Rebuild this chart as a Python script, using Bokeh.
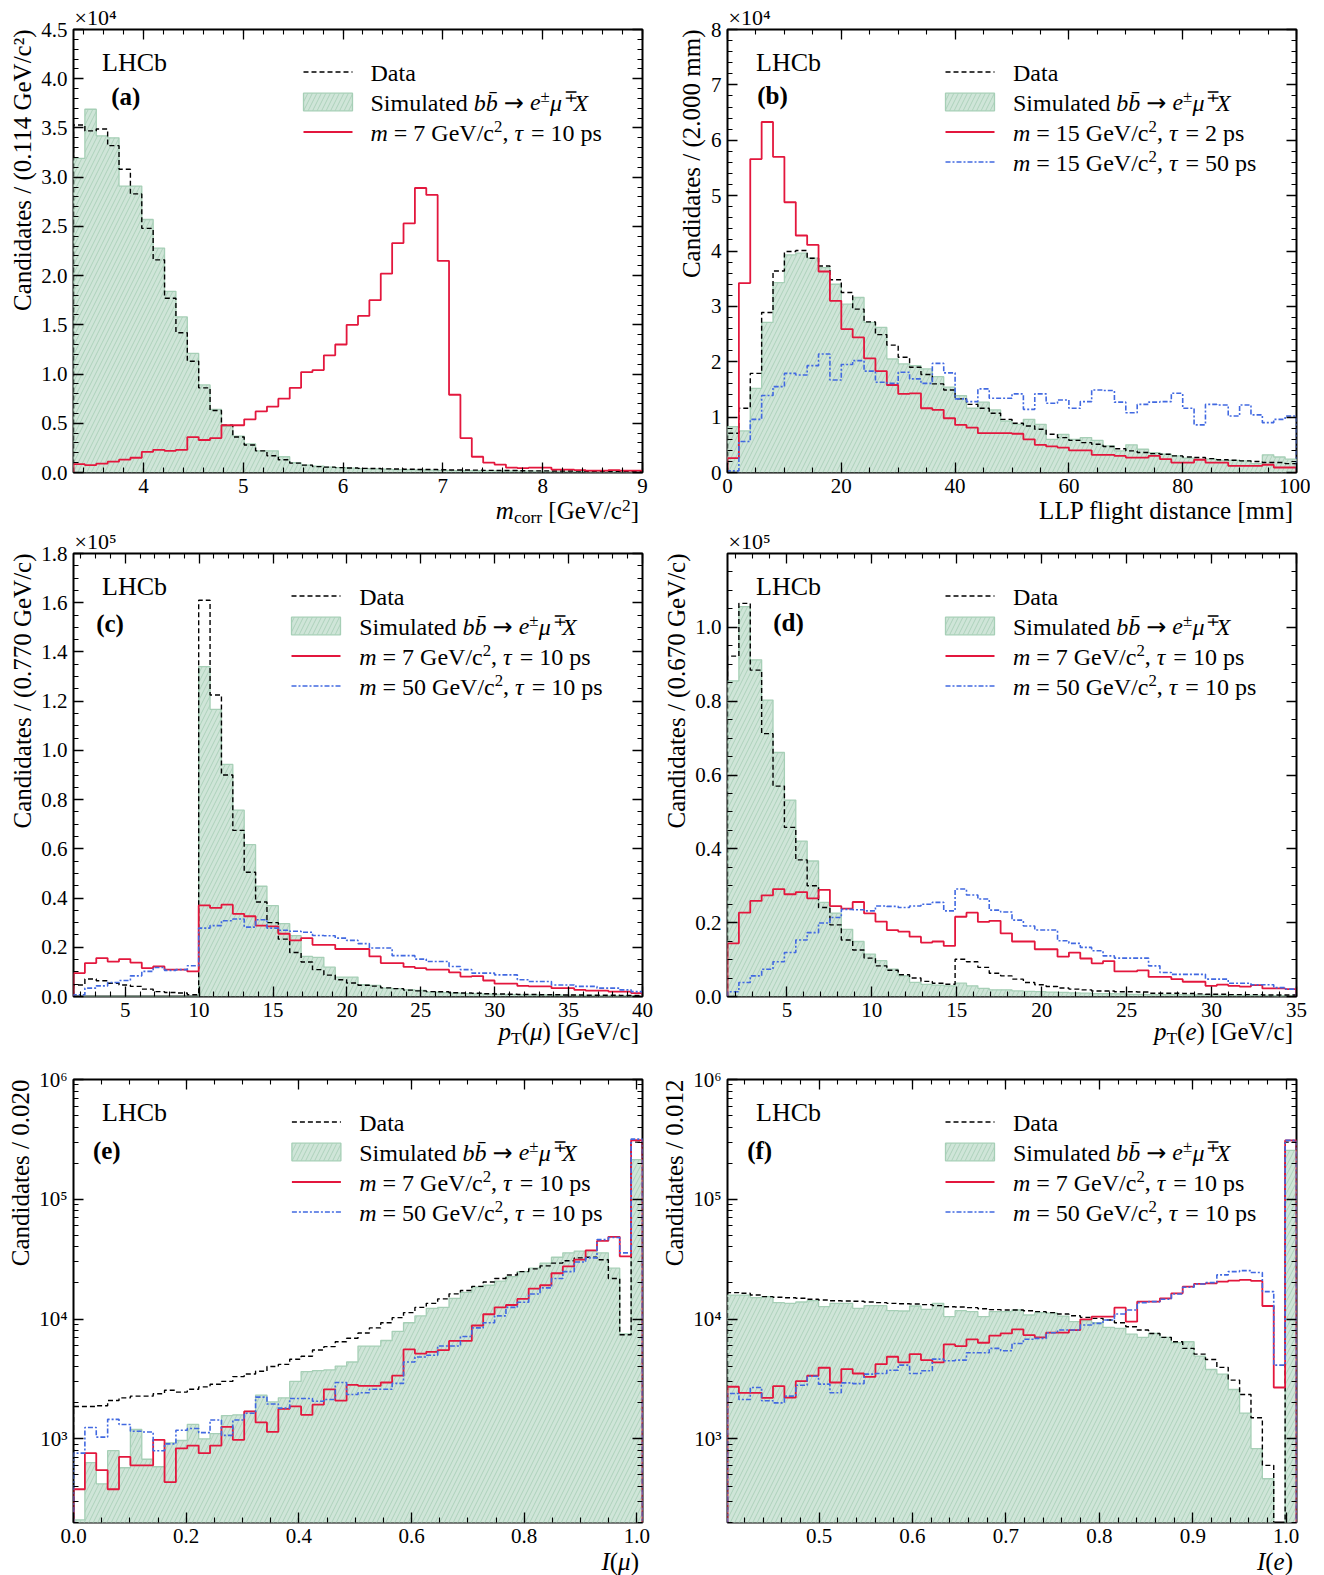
import math
from bokeh.plotting import figure
from bokeh.layouts import column, row
from bokeh.models import (Label, LinearAxis, LogAxis, Range1d, SingleIntervalTicker, Title,
                          FixedTicker, PrintfTickFormatter, CustomJSTickFormatter, Div)
from bokeh.embed import file_html
from bokeh.resources import INLINE

# ---------------- data ----------------
# (a) corrected mass, 50 bins of 0.114 GeV/c2 from 3.3, units of 1e4
a_data = [3.53, 3.47, 3.49, 3.32, 3.08, 2.83, 2.48, 2.16, 1.77, 1.42,
          1.13, 0.86, 0.63, 0.48, 0.36, 0.28, 0.22, 0.17, 0.13, 0.095,
          0.075, 0.06, 0.055, 0.05, 0.045, 0.042, 0.04, 0.037, 0.035, 0.033,
          0.03, 0.03, 0.028, 0.026, 0.025, 0.024, 0.022, 0.02, 0.02, 0.018,
          0.017, 0.016, 0.015, 0.015, 0.014, 0.013, 0.013, 0.012, 0.012, 0.011]
a_sim = [3.19, 3.69, 3.42, 3.40, 2.91, 2.91, 2.57, 2.28, 1.84, 1.58,
         1.21, 0.89, 0.64, 0.47, 0.37, 0.29, 0.22, 0.22, 0.16, 0.10,
         0.075, 0.065, 0.055, 0.05, 0.045, 0.04, 0.036, 0.034, 0.03, 0.028,
         0.026, 0.024, 0.022, 0.02, 0.019, 0.018, 0.017, 0.016, 0.015, 0.014,
         0.013, 0.012, 0.012, 0.011, 0.011, 0.010, 0.010, 0.009, 0.009, 0.008]
a_m7 = [0.085, 0.075, 0.09, 0.11, 0.13, 0.15, 0.21, 0.23, 0.22, 0.23,
        0.36, 0.33, 0.35, 0.48, 0.48, 0.54, 0.62, 0.67, 0.75, 0.86,
        1.02, 1.04, 1.19, 1.30, 1.50, 1.59, 1.75, 2.02, 2.33, 2.53,
        2.89, 2.82, 2.15, 0.79, 0.35, 0.16, 0.10, 0.08, 0.05, 0.045,
        0.05, 0.05, 0.03, 0.03, 0.025, 0.02, 0.02, 0.025, 0.02, 0.02]

# (b) flight distance, 50 bins of 2 mm, units of 1e4
b_data = [0.71, 1.16, 1.79, 2.89, 3.64, 3.99, 4.01, 3.87, 3.73, 3.48,
          3.25, 2.95, 2.72, 2.49, 2.30, 2.08, 1.90, 1.77, 1.60, 1.49,
          1.33, 1.23, 1.16, 1.07, 0.96, 0.89, 0.84, 0.78, 0.69, 0.63,
          0.58, 0.54, 0.51, 0.47, 0.43, 0.39, 0.36, 0.34, 0.33, 0.30,
          0.28, 0.27, 0.25, 0.23, 0.22, 0.21, 0.20, 0.18, 0.18, 0.16]
b_sim = [0.83, 0.75, 1.52, 2.71, 3.43, 3.93, 3.96, 3.87, 3.70, 3.40,
         3.04, 3.16, 2.71, 2.62, 2.05, 1.96, 1.93, 1.87, 1.73, 1.54,
         1.39, 1.16, 1.27, 1.13, 0.93, 0.87, 0.96, 0.87, 0.60, 0.69,
         0.60, 0.63, 0.58, 0.48, 0.39, 0.50, 0.42, 0.36, 0.33, 0.30,
         0.26, 0.24, 0.24, 0.22, 0.22, 0.21, 0.16, 0.32, 0.28, 0.24]
b_m15_t2 = [0.26, 3.42, 5.66, 6.33, 5.70, 4.88, 4.28, 4.11, 3.63, 3.10,
            2.59, 2.44, 2.06, 1.83, 1.58, 1.42, 1.43, 1.16, 1.13, 0.98,
            0.86, 0.81, 0.71, 0.71, 0.71, 0.70, 0.60, 0.50, 0.47, 0.45,
            0.40, 0.40, 0.32, 0.32, 0.30, 0.27, 0.27, 0.30, 0.24, 0.18,
            0.18, 0.23, 0.18, 0.18, 0.12, 0.12, 0.12, 0.14, 0.09, 0.09]
b_m15_t50 = [0.03, 0.56, 0.96, 1.39, 1.55, 1.79, 1.76, 1.93, 2.14, 1.67,
             1.95, 2.02, 1.83, 1.63, 1.61, 1.81, 1.69, 1.61, 1.97, 1.80,
             1.33, 1.28, 1.51, 1.34, 1.34, 1.42, 1.14, 1.42, 1.25, 1.31,
             1.16, 1.28, 1.49, 1.48, 1.27, 1.08, 1.23, 1.27, 1.28, 1.43,
             1.16, 0.86, 1.23, 1.22, 1.02, 1.22, 1.04, 0.90, 0.96, 1.02]

# (c) pT(mu), 50 bins of 0.770 GeV/c from 1.5, units of 1e5
c_data = [0.047, 0.071, 0.064, 0.054, 0.047, 0.041, 0.030, 0.020, 0.016, 0.014,
          0.007, 1.61, 1.225, 0.90, 0.675, 0.505, 0.384, 0.30, 0.233, 0.179,
          0.140, 0.109, 0.087, 0.068, 0.055, 0.046, 0.042, 0.035, 0.032, 0.026,
          0.023, 0.020, 0.019, 0.015, 0.014, 0.013, 0.011, 0.010, 0.009, 0.008,
          0.008, 0.007, 0.007, 0.006, 0.006, 0.005, 0.005, 0.005, 0.004, 0.004]
c_sim = [0.0, 0.0, 0.0, 0.0, 0.0, 0.0, 0.0, 0.0, 0.0, 0.0,
         0.0, 1.34, 1.167, 0.943, 0.757, 0.617, 0.448, 0.369, 0.296, 0.247,
         0.163, 0.159, 0.119, 0.079, 0.079, 0.048, 0.045, 0.034, 0.032, 0.027,
         0.025, 0.018, 0.016, 0.014, 0.012, 0.011, 0.010, 0.009, 0.008, 0.007,
         0.006, 0.006, 0.005, 0.005, 0.004, 0.004, 0.003, 0.003, 0.003, 0.003]
c_m7 = [0.095, 0.136, 0.156, 0.142, 0.152, 0.138, 0.115, 0.122, 0.109, 0.109,
        0.102, 0.370, 0.360, 0.373, 0.336, 0.326, 0.288, 0.285, 0.255, 0.228,
        0.237, 0.210, 0.210, 0.193, 0.193, 0.193, 0.163, 0.136, 0.136, 0.120,
        0.115, 0.109, 0.109, 0.098, 0.081, 0.083, 0.065, 0.052, 0.052, 0.043,
        0.041, 0.041, 0.034, 0.034, 0.027, 0.024, 0.024, 0.020, 0.020, 0.014]
c_m50 = [0.007, 0.034, 0.043, 0.057, 0.065, 0.084, 0.102, 0.118, 0.106, 0.109,
         0.125, 0.278, 0.288, 0.308, 0.315, 0.282, 0.312, 0.278, 0.269, 0.265,
         0.261, 0.248, 0.247, 0.237, 0.228, 0.215, 0.197, 0.197, 0.166, 0.166,
         0.152, 0.142, 0.142, 0.122, 0.109, 0.095, 0.095, 0.088, 0.088, 0.068,
         0.061, 0.061, 0.047, 0.047, 0.041, 0.041, 0.034, 0.034, 0.027, 0.020]

# (d) pT(e), 50 bins of 0.670 GeV/c from 1.5, units of 1e5
d_data = [0.922, 1.065, 0.884, 0.712, 0.570, 0.458, 0.370, 0.300, 0.241, 0.194,
          0.153, 0.126, 0.104, 0.083, 0.071, 0.059, 0.050, 0.041, 0.036, 0.033,
          0.101, 0.094, 0.079, 0.063, 0.056, 0.047, 0.038, 0.032, 0.027, 0.023,
          0.020, 0.018, 0.015, 0.015, 0.013, 0.013, 0.012, 0.009, 0.009, 0.009,
          0.008, 0.007, 0.006, 0.006, 0.005, 0.005, 0.005, 0.004, 0.004, 0.004]
d_sim = [0.855, 1.056, 0.912, 0.803, 0.661, 0.532, 0.421, 0.367, 0.255, 0.226,
         0.182, 0.149, 0.115, 0.097, 0.074, 0.056, 0.038, 0.033, 0.031, 0.029,
         0.036, 0.029, 0.022, 0.018, 0.018, 0.015, 0.014, 0.013, 0.012, 0.011,
         0.010, 0.009, 0.008, 0.008, 0.007, 0.006, 0.006, 0.005, 0.005, 0.005,
         0.004, 0.004, 0.004, 0.003, 0.003, 0.003, 0.003, 0.003, 0.002, 0.002]
d_m7 = [0.144, 0.227, 0.259, 0.274, 0.291, 0.277, 0.283, 0.266, 0.289, 0.245,
        0.238, 0.256, 0.225, 0.203, 0.180, 0.176, 0.162, 0.146, 0.149, 0.137,
        0.216, 0.227, 0.202, 0.205, 0.171, 0.149, 0.149, 0.128, 0.128, 0.108,
        0.119, 0.103, 0.090, 0.096, 0.068, 0.068, 0.071, 0.053, 0.053, 0.047,
        0.040, 0.040, 0.029, 0.032, 0.029, 0.027, 0.031, 0.022, 0.022, 0.020]
d_m50 = [0.013, 0.038, 0.056, 0.074, 0.094, 0.119, 0.153, 0.173, 0.199, 0.214,
         0.236, 0.235, 0.232, 0.245, 0.244, 0.241, 0.245, 0.250, 0.255, 0.232,
         0.291, 0.275, 0.264, 0.234, 0.229, 0.207, 0.191, 0.180, 0.180, 0.151,
         0.144, 0.133, 0.124, 0.110, 0.104, 0.104, 0.104, 0.083, 0.065, 0.060,
         0.060, 0.060, 0.047, 0.047, 0.036, 0.036, 0.032, 0.032, 0.024, 0.020]

# (e) I(mu), 50 bins from 0, counts
e_data = [1860, 1860, 1890, 2085, 2195, 2270, 2270, 2377, 2540, 2455,
          2590, 2713, 2857, 3015, 3305, 3480, 3665, 4015, 4180, 4610,
          4890, 5505, 5880, 6460, 6915, 7640, 8430, 9310, 10270, 11320,
          12500, 13520, 14720, 16230, 17330, 18750, 20400, 21810, 23320, 24900,
          26250, 27800, 29300, 30700, 32400, 32800, 31300, 21800, 7400, 300000]
e_sim = [210, 632, 421, 795, 573, 1195, 675, 584, 925, 968,
         1318, 1000, 1104, 1563, 1585, 1692, 2317, 2031, 2198, 3015,
         3640, 3715, 3760, 4045, 4375, 5950, 5950, 6620, 7900, 9310,
         10620, 12250, 12500, 14900, 16700, 18500, 19150, 20700, 22600, 24900,
         26600, 29300, 32800, 35700, 36900, 36900, 35700, 26600, 7500, 214000]
e_m7 = [379, 759, 547, 379, 706, 600, 600, 980, 435, 832,
        877, 759, 877, 1258, 980, 1692, 1370, 1140, 1780, 1864,
        1585, 1928, 2590, 2085, 2820, 2770, 2770, 2950, 3365, 5570,
        5150, 5320, 5510, 6570, 6570, 8830, 10960, 12500, 13090, 14720,
        17950, 19150, 24100, 27500, 31300, 37400, 44900, 48600, 33400, 311000]
e_m50 = [759, 1242, 1033, 1453, 1318, 1155, 1140, 795, 906, 1178,
         1218, 1125, 1435, 1067, 1435, 1636, 2229, 1952, 1804, 2170,
         2170, 2056, 2128, 2950, 2345, 2420, 2590, 2590, 2900, 4375,
         4820, 4990, 5960, 5960, 7150, 8430, 9310, 10620, 12500, 13800,
         16200, 18200, 21800, 24900, 29900, 32400, 46000, 48000, 35700, 318000]

# (f) I(e), 50 bins from 0.402, counts
f_data = [16600, 16400, 15860, 15380, 15180, 15070, 14890, 14620, 14420, 14230,
          14150, 14060, 13870, 13700, 13520, 13430, 13350, 13180, 12930, 12680,
          12600, 12440, 12200, 11970, 11890, 11890, 11740, 11520, 11300, 11010,
          10660, 10330, 10130, 9810, 9310, 8630, 8090, 7580, 7030, 6460,
          5690, 5090, 4590, 3950, 3090, 2340, 1500, 600, 100, 300000]
f_sim = [15860, 15860, 15070, 15380, 13700, 13520, 13870, 14230, 12680, 13520,
         13520, 12280, 12930, 12930, 11740, 11670, 12840, 12050, 13520, 10460,
         11740, 11520, 10460, 11520, 11520, 11890, 10800, 11300, 11200, 10590,
         9500, 9690, 9310, 8520, 8360, 7480, 7030, 7580, 7030, 6340,
         6460, 4900, 3790, 3470, 2580, 1640, 828, 464, 100, 256000]
f_m7 = [2720, 2420, 2420, 2200, 2750, 2210, 3030, 3360, 3920, 2950,
        3820, 3510, 3290, 4200, 4840, 4340, 5090, 4540, 4340, 6140,
        5940, 6770, 6340, 7260, 7580, 8200, 7350, 7030, 7690, 7690,
        8090, 9940, 10460, 10460, 12440, 9500, 13970, 13970, 14890, 16400,
        18630, 19620, 19880, 20530, 20930, 21200, 20790, 12840, 2680, 310000]
f_m50 = [2390, 2130, 2680, 2080, 1995, 2270, 2800, 3330, 2860, 2420,
         2930, 2890, 3470, 3510, 3740, 4120, 3510, 3700, 4630, 4480,
         4540, 5230, 5230, 5690, 5430, 6250, 6770, 6890, 7690, 8090,
         8090, 8910, 9200, 9810, 11010, 11890, 13700, 13970, 14620, 16180,
         18400, 19620, 20140, 23350, 24900, 25360, 24430, 16940, 4120, 310000]

# ---------------- styling ----------------
FONT = "Liberation Serif"
SYM_FONT = "DejaVu Sans"
FW, FH = 569, 443
FIG_W = 655
SIM_FILL = "#cfe5d8"
SIM_HATCH = "#a9cfb8"
SIM_EDGE = "#a6cfb6"
RED = "#e3173d"
BLUE = "#4169e1"
DATA_DASH = "5 3"
BLUE_DASH = "5 2 2 2"

LOG_MAJOR = [1e3, 1e4, 1e5, 1e6]
LOG_MINOR = [k * 10 ** d for d in (2, 3, 4, 5) for k in range(2, 10)]

# Times-compatible advance widths (1/1000 em)
W_R = {" ": 250, "(": 333, ")": 333, ",": 250, ".": 250, "/": 278, "=": 564,
       "[": 333, "]": 333, "±": 564, "∓": 564, "→": 838, "×": 564, "μ": 576,
       "τ": 440, "\u0304": 0, "C": 667, "D": 722, "G": 722, "H": 722, "I": 333,
       "L": 611, "P": 556, "S": 556, "T": 611, "V": 722, "X": 722, "a": 444,
       "b": 500, "c": 444, "d": 500, "e": 444, "f": 333, "g": 500, "h": 500,
       "i": 278, "l": 278, "m": 778, "n": 500, "o": 500, "p": 500, "r": 333,
       "s": 389, "t": 278, "u": 500}
W_I = {"m": 722, "X": 611, "I": 333, "e": 444, "b": 500, "p": 500, "μ": 576, "τ": 440}


def char_w(ch, style):
    if style == "i" and ch in W_I:
        return W_I[ch]
    return W_R.get(ch, 500)


def seg_size(style, size):
    return size * 0.7 if style in ("sup", "sub") else size


def text_width(text, style, size):
    return sum(char_w(c, style) for c in text) / 1000.0 * seg_size(style, size)


def to_data(cfg, dx, dy):
    x0, x1 = cfg["xr"]
    y0, y1 = cfg["yr"]
    x = x0 + dx / FW * (x1 - x0)
    if cfg["log"]:
        ly = math.log10(y1) - dy / FH * (math.log10(y1) - math.log10(y0))
        return x, 10 ** ly
    return x, y1 - dy / FH * (y1 - y0)


def rich(p, cfg, dx, dy, segs, size):
    # dx, dy: pixel offsets of the baseline start from the frame's top-left corner
    x, y = cfg["xr"][0], cfg["yr"][1]
    pos = dx
    for t, s in segs:
        w = text_width(t, s, size)
        fs = seg_size(s, size)
        lead = len(t) - len(t.lstrip(" "))
        body = t.strip(" ")
        if body:
            rise = 0.36 * size if s == "sup" else (-0.2 * size if s == "sub" else 0)
            style = "italic" if s == "i" else ("bold" if s == "b" else "normal")
            p.add_layout(Label(x=x, y=y, x_offset=pos + lead * 0.25 * fs,
                               y_offset=-dy + rise + 0.32 * fs,
                               text=body, text_font=SYM_FONT if s == "sym" else FONT,
                               text_font_size=f"{fs:.1f}px",
                               text_font_style=style, text_baseline="alphabetic",
                               text_color="black"))
        pos += w


def sig_segs(m, tau):
    return [("m", "i"), (f" = {m} GeV/c", "r"), ("2", "sup"), (",", "r"),
            (" ", "r"), ("τ", "i"), (f" = {tau} ps", "r")]


SIM_SEGS = [("Simulated ", "r"), ("b", "i"), ("b\u0304", "i"), (" ", "r"), ("→", "sym"),
            (" ", "r"), ("e", "i"), ("±", "sup"), ("μ", "i"), ("∓", "sup"), ("X", "i")]


def step_line(p, edges, vals, floor, **kw):
    p.step(x=edges[:1] + edges, y=[floor] + vals + [floor], mode="after", **kw)


def panel(cfg, top, left):
    log = cfg["log"]
    p = figure(frame_width=FW, frame_height=FH,
               x_range=Range1d(*cfg["xr"]), y_range=Range1d(*cfg["yr"]),
               y_axis_type="log" if log else "linear",
               toolbar_location=None, output_backend="svg",
               min_border_left=left, min_border_right=FIG_W - FW - left,
               min_border_top=top, min_border_bottom=31)
    p.grid.visible = False
    p.outline_line_color = "black"
    p.outline_line_width = 2

    xt = SingleIntervalTicker(interval=cfg["xint"], num_minor_ticks=cfg["xminor"])
    if log:
        yt = FixedTicker(ticks=LOG_MAJOR, minor_ticks=LOG_MINOR)
    else:
        yt = SingleIntervalTicker(interval=cfg["yint"], num_minor_ticks=cfg["yminor"])
    bottom_ax, left_ax = p.below[0], p.left[0]
    bottom_ax.ticker = xt
    left_ax.ticker = yt
    top_ax = LinearAxis(ticker=xt)
    right_ax = (LogAxis if log else LinearAxis)(ticker=yt)
    p.add_layout(top_ax, "above")
    p.add_layout(right_ax, "right")
    for ax in (bottom_ax, left_ax, top_ax, right_ax):
        ax.axis_line_color = None
        ax.major_tick_in = 10
        ax.major_tick_out = 0
        ax.minor_tick_in = 5
        ax.minor_tick_out = 0
        ax.major_tick_line_color = "black"
        ax.minor_tick_line_color = "black"
        ax.major_tick_line_width = 1.3
        ax.minor_tick_line_width = 1.1
        ax.major_label_text_font = FONT
        ax.major_label_text_font_size = "21px"
        ax.major_label_text_color = "black"
        ax.major_label_standoff = 6
    for ax in (top_ax, right_ax):
        ax.formatter = CustomJSTickFormatter(code="return ''")
        ax.major_label_text_font_size = "0px"
        ax.major_label_standoff = 0
    if cfg.get("xfmt"):
        bottom_ax.formatter = PrintfTickFormatter(format=cfg["xfmt"])
    if log:
        left_ax.major_label_overrides = {1e3: "10³", 1e4: "10⁴", 1e5: "10⁵", 1e6: "10⁶"}
    elif cfg.get("yfmt"):
        left_ax.formatter = PrintfTickFormatter(format=cfg["yfmt"])

    # y axis title, aligned with the top of the frame
    p.add_layout(Title(text=cfg["ylabel"], align="right", text_font=FONT, text_color="black",
                       text_font_size="25px", text_font_style="normal", standoff=5), "left")
    if cfg.get("factor"):
        p.add_layout(Title(text="×10" + cfg["factor"], align="left", offset=1, text_font=FONT,
                           text_color="black", text_font_size="22px",
                           text_font_style="normal", standoff=0), "above")

    floor = 1.0 if log else 0.0
    sim = cfg["sim"]
    edges = [cfg["x0"] + cfg["bw"] * i for i in range(len(sim) + 1)]
    p.varea_step(x=edges, y1=floor, y2=sim + sim[-1:], step_mode="after",
                 fill_color=SIM_FILL, hatch_pattern="/", hatch_color=SIM_HATCH,
                 hatch_scale=9, hatch_weight=0.9)
    step_line(p, edges, sim, floor, line_color=SIM_EDGE, line_width=1.3)
    step_line(p, edges, cfg["data"], floor, line_color="black", line_width=1.4,
              line_dash=DATA_DASH)
    for vals, color in cfg["sigs"]:
        if color == RED:
            step_line(p, edges, vals, floor, line_color=RED, line_width=1.8)
        else:
            step_line(p, edges, vals, floor, line_color=BLUE, line_width=1.6,
                      line_dash=BLUE_DASH)

    # legend
    sx, tx = cfg["leg"]
    entries = [("data", [("Data", "r")]), ("sim", SIM_SEGS)]
    entries += [(color, segs) for (vals, color), segs in zip(cfg["sigs"], cfg["sig_labels"])]
    for i, (kind, segs) in enumerate(entries):
        cy = 42.5 + 30 * i
        xa, ya = to_data(cfg, sx, cy)
        xb, _ = to_data(cfg, sx + 49, cy)
        if kind == "data":
            p.line([xa, xb], [ya, ya], line_color="black", line_width=1.4, line_dash=DATA_DASH)
        elif kind == "sim":
            _, ytop = to_data(cfg, sx, cy - 8.8)
            _, ybot = to_data(cfg, sx, cy + 8.8)
            p.quad(left=xa, right=xb, top=ytop, bottom=ybot, fill_color=SIM_FILL,
                   hatch_pattern="/", hatch_color=SIM_HATCH, hatch_scale=9,
                   hatch_weight=0.9, line_color=SIM_EDGE, line_width=1.3)
        elif kind == RED:
            p.line([xa, xb], [ya, ya], line_color=RED, line_width=1.8)
        else:
            p.line([xa, xb], [ya, ya], line_color=BLUE, line_width=1.6, line_dash=BLUE_DASH)
        rich(p, cfg, tx, cy + 8.5, segs, 24)

    rich(p, cfg, 28.5, 41, [("LHCb", "r")], 26)
    ldx, ldy = cfg["letter"]
    rich(p, cfg, ldx, ldy, [(cfg["tag"], "b")], 25)
    return p


SUB = '<sub style="font-size:70%;vertical-align:-0.25em;line-height:0">{}</sub>'
SUP = '<sup style="font-size:70%;vertical-align:0.45em;line-height:0">{}</sup>'


def xlabel_div(html, text_right, top_margin, height):
    inner = (f'<div style="width:{text_right}px;text-align:right;white-space:nowrap;'
             f"font-family:'{FONT}';font-size:25px;line-height:{height}px;color:black\">"
             f"{html}</div>")
    return Div(text=inner, width=FIG_W, height=height, margin=(top_margin, 0, 0, 0))


cfgs = [
    dict(tag="(a)", xr=(3.3, 9.0), yr=(0, 4.5), log=False, x0=3.3, bw=0.114,
         xint=1, xminor=5, yint=0.5, yminor=5, yfmt="%.1f", factor="⁴",
         data=a_data, sim=a_sim, sigs=[(a_m7, RED)], sig_labels=[sig_segs(7, 10)],
         leg=(230, 297), letter=(37.7, 75),
         xlabel="<i>m</i>" + SUB.format("corr") + " [GeV/c" + SUP.format("2") + "]",
         ylabel="Candidates / (0.114 GeV/c²)"),
    dict(tag="(b)", xr=(0, 100), yr=(0, 8), log=False, x0=0, bw=2.0,
         xint=20, xminor=4, yint=1, yminor=5, factor="⁴",
         data=b_data, sim=b_sim, sigs=[(b_m15_t2, RED), (b_m15_t50, BLUE)],
         sig_labels=[sig_segs(15, 2), sig_segs(15, 50)],
         leg=(218, 285.5), letter=(29.7, 74),
         xlabel="LLP flight distance [mm]",
         ylabel="Candidates / (2.000 mm)"),
    dict(tag="(c)", xr=(1.5, 40), yr=(0, 1.8), log=False, x0=1.5, bw=0.77,
         xint=5, xminor=5, yint=0.2, yminor=4, yfmt="%.1f", factor="⁵",
         data=c_data, sim=c_sim, sigs=[(c_m7, RED), (c_m50, BLUE)],
         sig_labels=[sig_segs(7, 10), sig_segs(50, 10)],
         leg=(218, 285.7), letter=(22.7, 77.5),
         xlabel="<i>p</i>" + SUB.format("T") + "(<i>μ</i>) [GeV/c]",
         ylabel="Candidates / (0.770 GeV/c)"),
    dict(tag="(d)", xr=(1.5, 35), yr=(0, 1.2), log=False, x0=1.5, bw=0.67,
         xint=5, xminor=5, yint=0.2, yminor=4, yfmt="%.1f", factor="⁵",
         data=d_data, sim=d_sim, sigs=[(d_m7, RED), (d_m50, BLUE)],
         sig_labels=[sig_segs(7, 10), sig_segs(50, 10)],
         leg=(218, 285.4), letter=(45.7, 76.5),
         xlabel="<i>p</i>" + SUB.format("T") + "(<i>e</i>) [GeV/c]",
         ylabel="Candidates / (0.670 GeV/c)"),
    dict(tag="(e)", xr=(0, 1.01), yr=(200, 1e6), log=True, x0=0, bw=0.0202,
         xint=0.2, xminor=4, xfmt="%.1f",
         data=e_data, sim=e_sim, sigs=[(e_m7, RED), (e_m50, BLUE)],
         sig_labels=[sig_segs(7, 10), sig_segs(50, 10)],
         leg=(218.4, 285.7), letter=(19.4, 79),
         xlabel="<i>I</i>(<i>μ</i>)",
         ylabel="Candidates / 0.020"),
    dict(tag="(f)", xr=(0.402, 1.011), yr=(200, 1e6), log=True, x0=0.402, bw=0.01218,
         xint=0.1, xminor=5, xfmt="%.1f",
         data=f_data, sim=f_sim, sigs=[(f_m7, RED), (f_m50, BLUE)],
         sig_labels=[sig_segs(7, 10), sig_segs(50, 10)],
         leg=(218, 285.4), letter=(19.7, 79),
         xlabel="<i>I</i>(<i>e</i>)",
         ylabel="Candidates / 0.012"),
]

row_tops = [29, 29, 34]
div_margins = [-5, -8, -3]
div_heights = [26, 26, 24]
col_left = [73, 72]
blocks = []
for r in range(3):
    figs, divs = [], []
    for c in range(2):
        cfg = cfgs[2 * r + c]
        figs.append(panel(cfg, row_tops[r], col_left[c]))
        divs.append(xlabel_div(cfg["xlabel"], col_left[c] + FW - 3,
                               div_margins[r], div_heights[r]))
    blocks.append(row(*figs))
    blocks.append(row(*divs))

layout = column(*blocks)
open("out.html", "w").write(file_html(layout, INLINE))
